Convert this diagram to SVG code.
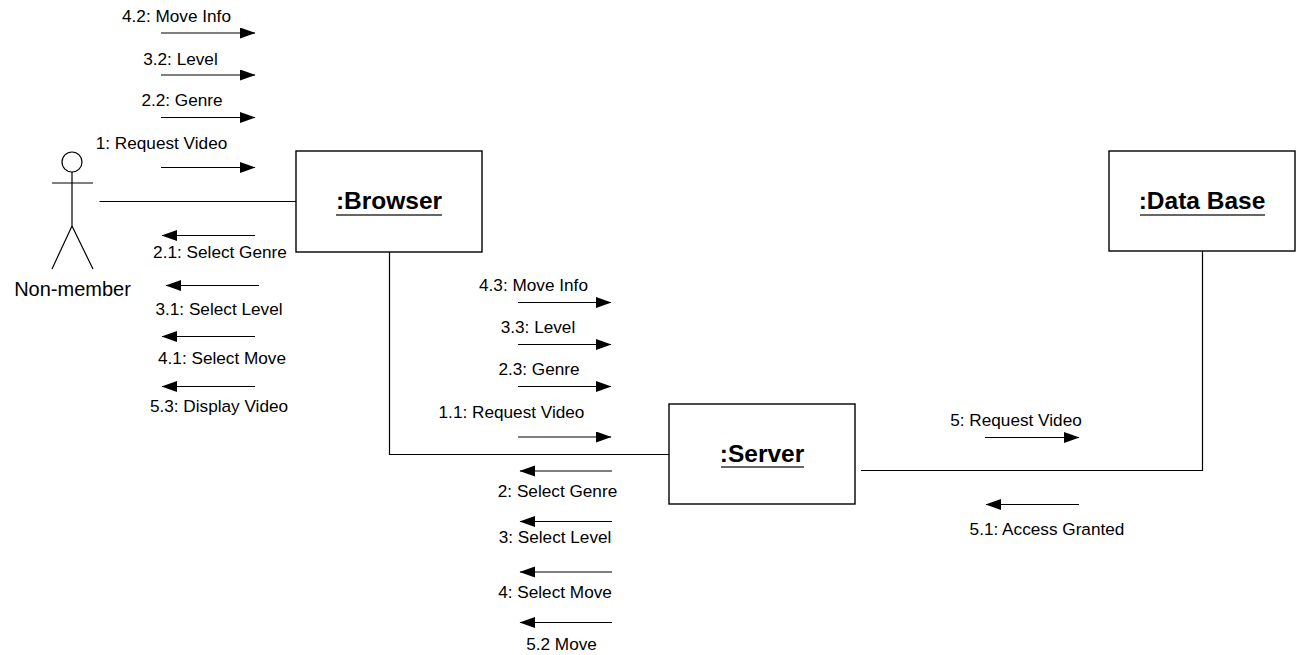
<svg xmlns="http://www.w3.org/2000/svg" width="1301" height="655" viewBox="0 0 1301 655">
<defs>
<marker id="a" markerUnits="userSpaceOnUse" markerWidth="16" markerHeight="12" refX="15" refY="5.5" orient="auto"><path d="M0 0L15.5 5.5L0 11Z" fill="#000"/></marker>
</defs>
<style>
text{font-family:"Liberation Sans",Arial,sans-serif;fill:#000}
.m{font-size:17.200px;text-anchor:middle}
.n{font-size:24.500px;font-weight:bold;text-anchor:middle}
.l{stroke:#000;stroke-width:1.2;fill:none}
.b{fill:#fff;stroke:#000;stroke-width:1.4}
.u{stroke:#333;stroke-width:1.5}
.r{stroke:#000;stroke-width:1.1;marker-end:url(#a)}
</style>
<rect width="1301" height="655" fill="#fff"/>
<g id="connectors">
<path class="l" d="M99.500 201.500H296"/>
<path class="l" d="M389.500 252V454.500H669"/>
<path class="l" d="M861 470.500H1202.500V251"/>
<path class="r" d="M161 33H255"/>
<path class="r" d="M161 75H255"/>
<path class="r" d="M161 117.500H255"/>
<path class="r" d="M161 167.500H255"/>
<path class="r" d="M255 235.500H162"/>
<path class="r" d="M259 285.500H166"/>
<path class="r" d="M255 336.500H162"/>
<path class="r" d="M255 386.500H162"/>
<path class="r" d="M518 302.500H611"/>
<path class="r" d="M518 344.500H611"/>
<path class="r" d="M518 386.500H611"/>
<path class="r" d="M518 437H611"/>
<path class="r" d="M612 471H520"/>
<path class="r" d="M612 521.500H520"/>
<path class="r" d="M612 572H520"/>
<path class="r" d="M612 622.500H520"/>
<path class="r" d="M985 437.500H1079"/>
<path class="r" d="M1079 504.500H986"/>
</g>
<g id="actor">
<circle class="l" cx="72" cy="162" r="10"/>
<path class="l" d="M52 183H93M72 172V226M72 226L52 269M72 226L93 269"/>
<text x="72.500" y="296" font-size="20" text-anchor="middle">Non-member</text>
</g>
<g id="browser">
<rect class="b" x="296" y="151" width="186" height="101"/>
<text class="n" x="389" y="209">:Browser</text>
<path class="u" d="M336 215H442"/>
</g>
<g id="server">
<rect class="b" x="669" y="404" width="186" height="100"/>
<text class="n" x="762" y="462">:Server</text>
<path class="u" d="M721 467H804"/>
</g>
<g id="database">
<rect class="b" x="1109" y="151" width="186" height="100"/>
<text class="n" x="1202" y="209">:Data Base</text>
<path class="u" d="M1140 215H1265"/>
</g>
<g id="labels">
<text class="m" x="176.500" y="22">4.2: Move Info</text>
<text class="m" x="180.500" y="65">3.2: Level</text>
<text class="m" x="182" y="106">2.2: Genre</text>
<text class="m" x="161.500" y="149">1: Request Video</text>
<text class="m" x="220" y="258">2.1: Select Genre</text>
<text class="m" x="219" y="315">3.1: Select Level</text>
<text class="m" x="222" y="364">4.1: Select Move</text>
<text class="m" x="219" y="412">5.3: Display Video</text>
<text class="m" x="533.500" y="291">4.3: Move Info</text>
<text class="m" x="538" y="333">3.3: Level</text>
<text class="m" x="539" y="375">2.3: Genre</text>
<text class="m" x="511.500" y="418">1.1: Request Video</text>
<text class="m" x="557.500" y="497">2: Select Genre</text>
<text class="m" x="555" y="543">3: Select Level</text>
<text class="m" x="555" y="598">4: Select Move</text>
<text class="m" x="561.500" y="650">5.2 Move</text>
<text class="m" x="1016" y="426">5: Request Video</text>
<text class="m" x="1047" y="535">5.1: Access Granted</text>
</g>
</svg>
